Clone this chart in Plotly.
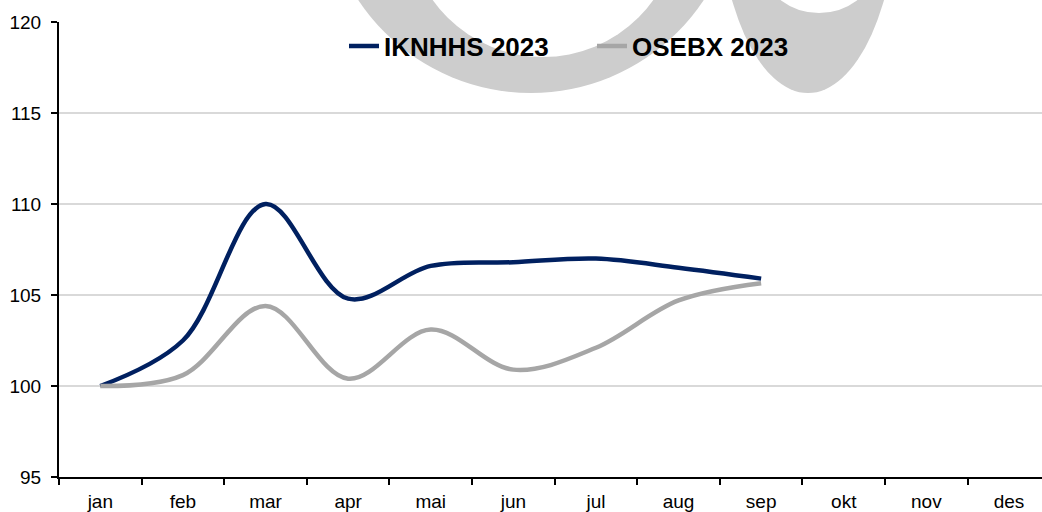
import plotly.graph_objects as go

months = ["jan", "feb", "mar", "apr", "mai", "jun", "jul", "aug", "sep", "okt", "nov", "des"]
iknhhs_2023 = [100.0, 102.5, 110.0, 104.8, 106.6, 106.8, 107.0, 106.5, 105.9]
osebx_2023 = [100.0, 100.6, 104.4, 100.4, 103.1, 100.9, 102.1, 104.7, 105.65]

W, H = 1042, 512
ML, MR, MT, MB = 59, 0, 22, 35
PW, PH = W - ML - MR, H - MT - MB


def px(x):
    return (x - ML) / PW


def py(y):
    return (H - MB - y) / PH


fig = go.Figure()
fig.add_trace(go.Scatter(x=months[:len(iknhhs_2023)], y=iknhhs_2023, name="IKNHHS 2023",
                         mode="lines", line=dict(color="#002060", width=4.5, shape="spline", smoothing=1.0)))
fig.add_trace(go.Scatter(x=months[:len(osebx_2023)], y=osebx_2023, name="OSEBX 2023",
                         mode="lines", line=dict(color="#A6A6A6", width=4.5, shape="spline", smoothing=1.0)))

# background watermark (logo fragment)
wm = "#CDCDCD"
shapes = []
for (x0, x1, y0, y1, col) in [
    (324, 738, -321, 93, wm),
    (408, 678, -212, 57, "white"),
    (718, 898, -307, 93, wm),
    (767, 871, -67, 13, "white"),
]:
    shapes.append(dict(type="circle", xref="paper", yref="paper", layer="below",
                       x0=px(x0), x1=px(x1), y0=py(y1), y1=py(y0),
                       fillcolor=col, line=dict(width=0)))

font = "Liberation Sans, Arial, sans-serif"
fig.update_layout(
    width=W, height=H,
    margin=dict(l=ML, r=MR, t=MT, b=MB),
    paper_bgcolor="white",
    plot_bgcolor="rgba(0,0,0,0)",
    shapes=shapes,
    showlegend=True,
    legend=dict(orientation="h", x=px(344), xanchor="left", y=py(46), yanchor="middle",
                font=dict(family=font, size=26, color="black", weight="bold"),
                bgcolor="rgba(0,0,0,0)", entrywidth=203, entrywidthmode="pixels",
                tracegroupgap=0),
    xaxis=dict(type="category", categoryorder="array", categoryarray=months,
               tickvals=months, ticktext=months,
               range=[-0.5, 11.4], tickson="boundaries", ticks="outside", ticklen=6,
               tickwidth=2, tickcolor="black", showline=True, linecolor="black", linewidth=2,
               showgrid=False, zeroline=False, ticklabelstandoff=6,
               tickfont=dict(family=font, size=19, color="black")),
    yaxis=dict(range=[95, 120], dtick=5, tick0=95, ticks="outside", ticklen=6, tickwidth=2,
               tickcolor="black", showline=True, linecolor="black", linewidth=2,
               showgrid=True, gridcolor="#D9D9D9", gridwidth=1.5, zeroline=False,
               ticklabelstandoff=6,
               tickfont=dict(family=font, size=19, color="black")),
)

fig.write_html("out.html", config={"displayModeBar": False},
               post_script="document.body.style.margin='0';")
